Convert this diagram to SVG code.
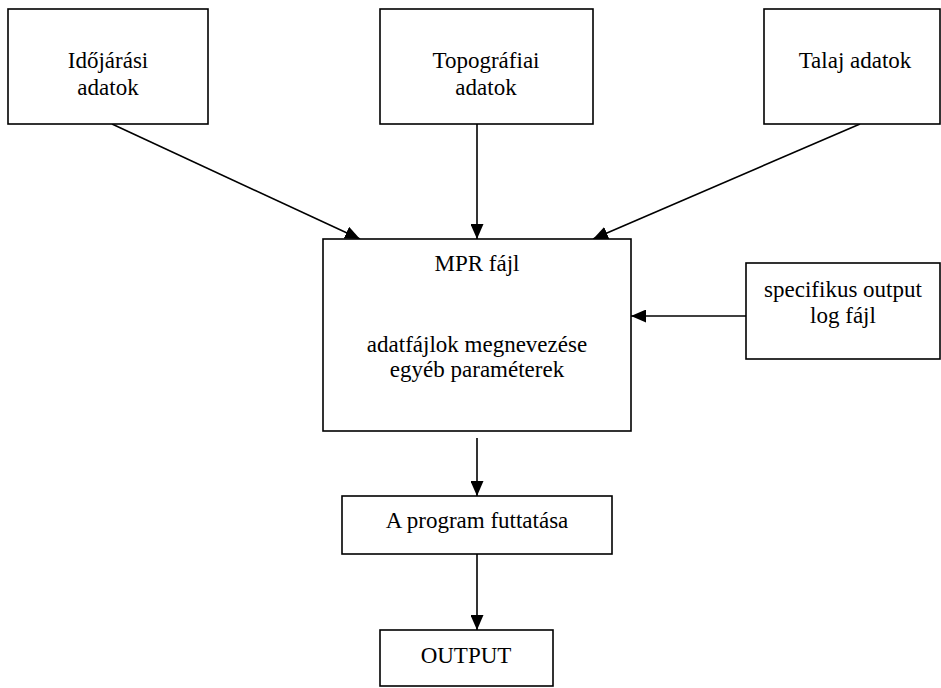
<svg xmlns="http://www.w3.org/2000/svg" width="941" height="688" viewBox="0 0 941 688">
<style>
.box{fill:#fff;stroke:#000;stroke-width:1.6}
.t{font-family:"Liberation Serif","Times New Roman",serif;font-size:23px;fill:#000;text-anchor:middle}
.c{stroke:#000;stroke-width:1.6;fill:none}
</style>
<defs>
<marker id="ah" markerWidth="15" markerHeight="13" refX="15" refY="6.5" orient="auto" markerUnits="userSpaceOnUse">
<path d="M0,0 L15,6.5 L0,13 Z" fill="#000"/>
</marker>
</defs>
<rect width="941" height="688" fill="#fff"/>
<g id="connectors">
<line class="c" x1="112" y1="124" x2="360" y2="239" marker-end="url(#ah)"/>
<line class="c" x1="477" y1="124" x2="477" y2="239" marker-end="url(#ah)"/>
<line class="c" x1="860" y1="124" x2="593" y2="239" marker-end="url(#ah)"/>
<line class="c" x1="746" y1="316" x2="631" y2="316" marker-end="url(#ah)"/>
<line class="c" x1="477" y1="438" x2="477" y2="496" marker-end="url(#ah)"/>
<line class="c" x1="477" y1="554" x2="477" y2="630" marker-end="url(#ah)"/>
</g>
<g id="n-idojarasi">
<rect class="box" x="8" y="9" width="200" height="115"/>
<text class="t" x="108" y="68">Időjárási</text>
<text class="t" x="108" y="95">adatok</text>
</g>
<g id="n-topografiai">
<rect class="box" x="380" y="9" width="213" height="115"/>
<text class="t" x="486" y="68">Topográfiai</text>
<text class="t" x="486" y="95">adatok</text>
</g>
<g id="n-talaj">
<rect class="box" x="764" y="9" width="176" height="115"/>
<text class="t" x="855" y="68">Talaj adatok</text>
</g>
<g id="n-mpr">
<rect class="box" x="323" y="239" width="308" height="192"/>
<text class="t" x="477" y="271">MPR fájl</text>
<text class="t" x="477" y="352">adatfájlok megnevezése</text>
<text class="t" x="477" y="377">egyéb paraméterek</text>
</g>
<g id="n-specifikus">
<rect class="box" x="746" y="263" width="194" height="96"/>
<text class="t" x="843" y="297">specifikus output</text>
<text class="t" x="843" y="323">log fájl</text>
</g>
<g id="n-program">
<rect class="box" x="342" y="496" width="270" height="58"/>
<text class="t" x="477" y="528">A program futtatása</text>
</g>
<g id="n-output">
<rect class="box" x="380" y="630" width="173" height="56"/>
<text class="t" x="466" y="663">OUTPUT</text>
</g>
</svg>
